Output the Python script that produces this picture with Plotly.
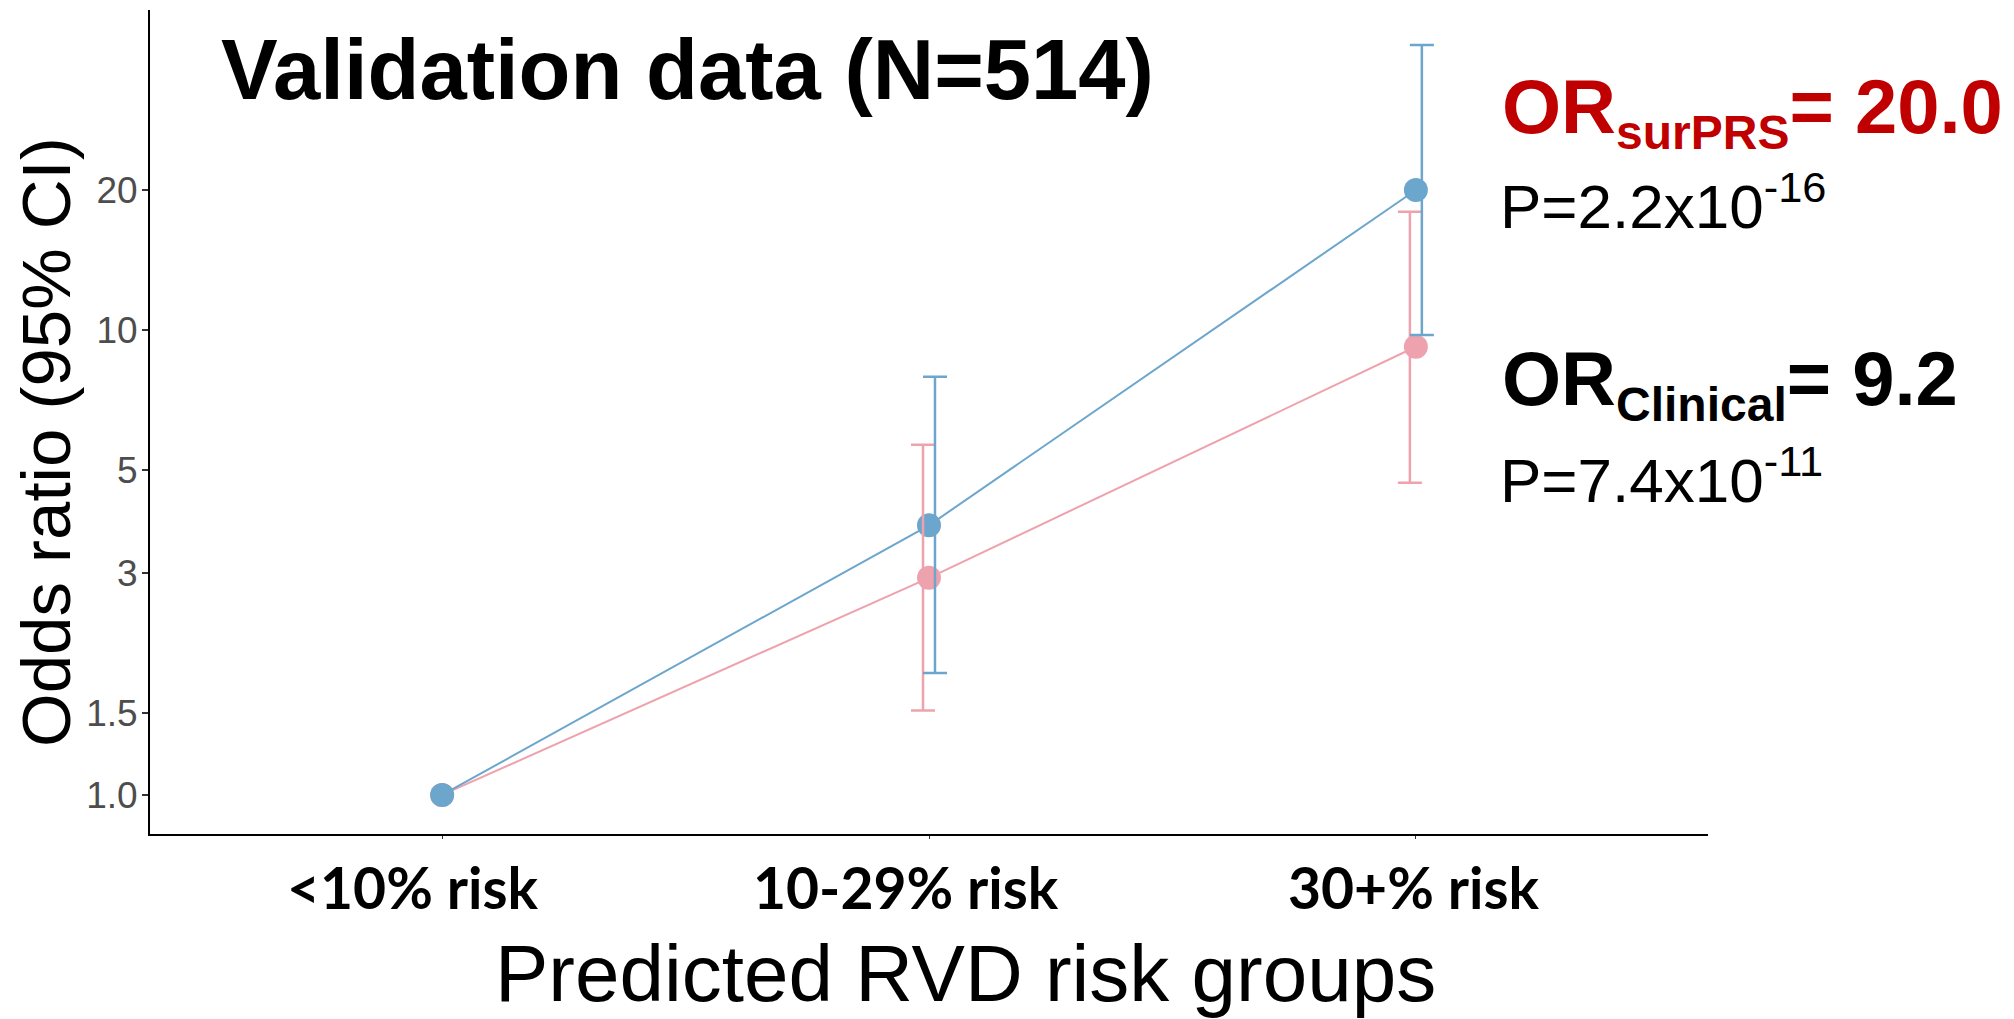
import plotly.graph_objects as go

# ---------------- data ----------------
groups = ["<10% risk", "10-29% risk", "30+% risk"]
group_index = [1, 2, 3]

prs_or = [1.0, 3.80, 20.0]
prs_lo = [1.0, 1.83, 9.75]
prs_hi = [1.0, 7.93, 41.0]

clin_or = [1.0, 2.93, 9.2]
clin_lo = [1.0, 1.52, 4.69]
clin_hi = [1.0, 5.66, 17.96]

y_tickvals = [1.0, 1.5, 3, 5, 10, 20]
y_ticktext = ["1.0", "1.5", "3", "5", "10", "20"]

# ---------------- styles ----------------
BLUE = "#6CA6CD"   # skyblue3
PINK = "#EEA2AD"   # lightpink2
RED = "#C00000"
W, H = 2014, 1019
ML, MR, MT, MB = 150, 306, 10, 185
PW, PH = W - ML - MR, H - MT - MB
DODGE = 0.0123
label_shift = [-29, -23, -2]


def px2x(px):
    return (px - ML) / PW


def py2y(py):
    return (H - MB - py) / PH


fig = go.Figure()

# lines + points (pink first, blue on top)
for ys, col in [(clin_or, PINK), (prs_or, BLUE)]:
    fig.add_trace(go.Scatter(
        x=group_index, y=ys, mode="lines+markers",
        line=dict(color=col, width=2),
        marker=dict(color=col, size=24),
        showlegend=False, hoverinfo="skip"))

# dodged error bars (only where an interval exists)
for est, lo, hi, col, off in [(clin_or, clin_lo, clin_hi, PINK, -DODGE),
                              (prs_or, prs_lo, prs_hi, BLUE, DODGE)]:
    idx = [i for i in range(len(est)) if hi[i] > lo[i]]
    fig.add_trace(go.Scatter(
        x=[group_index[i] + off for i in idx],
        y=[est[i] for i in idx],
        mode="markers",
        marker=dict(size=1, color="rgba(0,0,0,0)"),
        error_y=dict(type="data", symmetric=False,
                     array=[hi[i] - est[i] for i in idx],
                     arrayminus=[est[i] - lo[i] for i in idx],
                     color=col, thickness=2.5, width=12),
        showlegend=False, hoverinfo="skip"))

SANS = "Liberation Sans, Arial"
ann = []
# title
ann.append(dict(text="Validation data (N=514)", xref="paper", yref="paper",
                x=px2x(221), y=py2y(69.5), xanchor="left", yanchor="middle",
                font=dict(family=SANS, size=85, color="black", weight="bold")))
# OR surPRS
ann.append(dict(text="OR<sub><span style='font-size:48px'>surPRS</span></sub>= 20.0",
                xref="paper", yref="paper", x=px2x(1502), y=py2y(64),
                xanchor="left", yanchor="top",
                font=dict(family=SANS, size=76, color=RED, weight="bold")))
ann.append(dict(text="P=2.2x10<sup>-16</sup>", xref="paper", yref="paper",
                x=px2x(1500), y=py2y(241), xanchor="left", yanchor="bottom",
                font=dict(family=SANS, size=62, color="black")))
ann.append(dict(text="OR<sub><span style='font-size:48px'>Clinical</span></sub>= 9.2",
                xref="paper", yref="paper", x=px2x(1502), y=py2y(336),
                xanchor="left", yanchor="top",
                font=dict(family=SANS, size=76, color="black", weight="bold")))
ann.append(dict(text="P=7.4x10<sup>-11</sup>", xref="paper", yref="paper",
                x=px2x(1500), y=py2y(515), xanchor="left", yanchor="bottom",
                font=dict(family=SANS, size=62, color="black")))
# axis titles
ann.append(dict(text="Predicted RVD risk groups", xref="paper", yref="paper",
                x=px2x(495), y=py2y(973), xanchor="left", yanchor="middle",
                font=dict(family=SANS, size=80, color="black")))
ann.append(dict(text="Odds ratio (95% CI)", xref="paper", yref="paper",
                x=px2x(46), y=py2y(442), xanchor="center", yanchor="middle",
                textangle=-90,
                font=dict(family=SANS, size=69, color="black")))
# category labels
for g, xi, sh in zip(groups, group_index, label_shift):
    ann.append(dict(text=g, xref="x", yref="paper", x=xi, xshift=sh,
                    y=py2y(887), xanchor="center", yanchor="middle",
                    font=dict(family="Lato, Liberation Sans", size=57, color="black", weight="bold")))

for a in ann:
    a["showarrow"] = False
    a["borderpad"] = 0
    a["borderwidth"] = 0

fig.update_layout(
    width=W, height=H,
    margin=dict(l=ML, r=MR, t=MT, b=MB, pad=0),
    paper_bgcolor="white", plot_bgcolor="white",
    annotations=ann,
    xaxis=dict(range=[0.4, 3.6], tickvals=group_index, showticklabels=False,
               ticks="outside", ticklen=3, tickcolor="#333333", tickwidth=1,
               showline=True, linecolor="black", linewidth=2,
               showgrid=False, zeroline=False),
    yaxis=dict(type="log", range=[-0.084, 1.688],
               tickvals=y_tickvals, ticktext=y_ticktext,
               ticks="outside", ticklen=6, tickcolor="#333333", tickwidth=2,
               ticklabelstandoff=-3,
               tickfont=dict(family=SANS, size=37, color="#4D4D4D"),
               showline=True, linecolor="black", linewidth=2,
               showgrid=False, zeroline=False),
)

fig.write_html("out.html", config={"displayModeBar": False},
               post_script="document.body.style.margin='0';document.body.style.overflow='hidden';")
